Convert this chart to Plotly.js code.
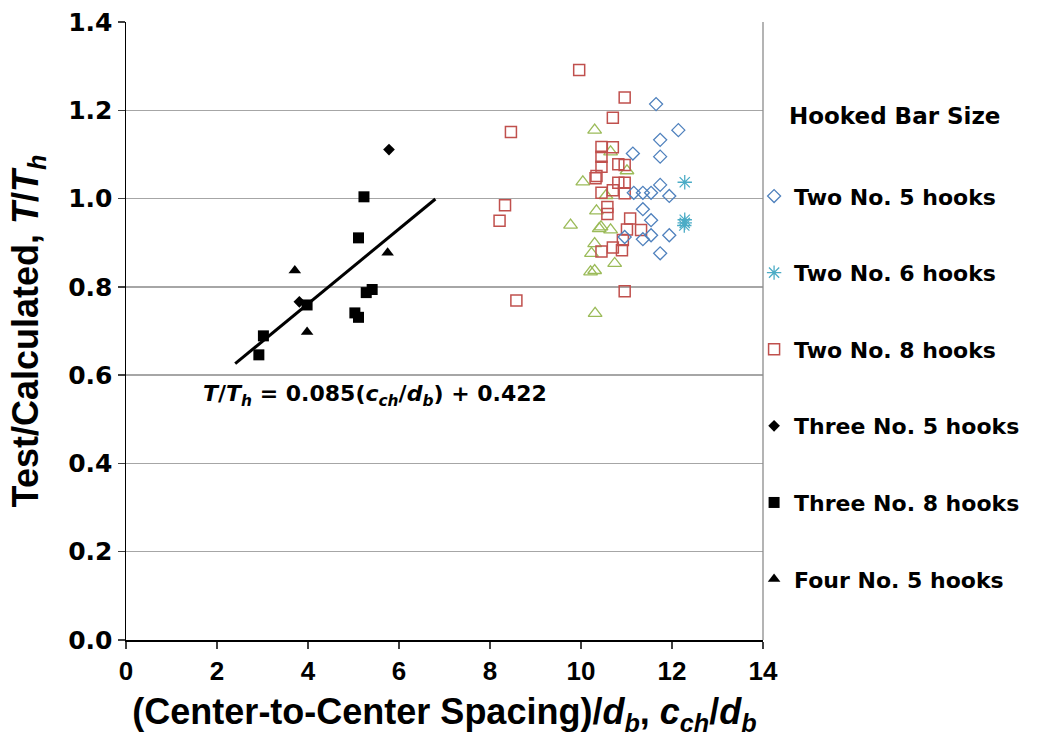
<!DOCTYPE html>
<html>
<head>
<meta charset="utf-8">
<script src="https://cdn.plot.ly/plotly-3.0.1.min.js"></script>
<style>
  html, body { margin: 0; padding: 0; background: #fff; }
  #chart { width: 1037px; height: 737px; }
</style>
</head>
<body>
<div id="chart"></div>
<script>
// ---- Data ----
var twoNo5X = [11.65, 12.14, 11.74, 11.14, 11.74, 11.74, 11.94, 11.54, 11.36, 11.16, 11.36, 11.54, 10.96, 11.36, 11.54, 11.94, 11.74];
var twoNo5Y = [1.214, 1.155, 1.133, 1.102, 1.095, 1.031, 1.006, 1.013, 1.013, 1.013, 0.976, 0.951, 0.913, 0.908, 0.917, 0.917, 0.876];

var twoNo6X = [12.28, 12.28, 12.28, 12.27];
var twoNo6Y = [1.037, 0.952, 0.945, 0.939];

var twoNo8X = [9.96, 10.96, 10.70, 8.46, 10.45, 10.70, 10.45, 10.82, 10.96, 10.45, 10.34, 10.32, 10.82, 10.96, 10.45, 10.70, 10.96, 8.33, 10.58, 10.58, 8.21, 11.08, 11.01, 11.32, 10.92, 10.70, 10.90, 10.45, 10.96, 8.58];
var twoNo8Y = [1.291, 1.229, 1.183, 1.151, 1.117, 1.116, 1.095, 1.078, 1.076, 1.072, 1.051, 1.046, 1.036, 1.036, 1.013, 1.019, 1.012, 0.985, 0.981, 0.965, 0.950, 0.955, 0.930, 0.929, 0.906, 0.889, 0.883, 0.880, 0.790, 0.769];

var otherX = [10.30, 10.65, 11.01, 10.04, 10.55, 10.34, 9.77, 10.44, 10.40, 10.65, 10.30, 10.23, 10.74, 10.21, 10.30, 10.31];
var otherY = [1.155, 1.106, 1.063, 1.038, 1.007, 0.972, 0.940, 0.936, 0.932, 0.929, 0.898, 0.876, 0.853, 0.834, 0.837, 0.740];

var threeNo5X = [5.78, 3.81];
var threeNo5Y = [1.111, 0.766];

var threeNo8X = [5.23, 5.11, 5.41, 5.28, 3.98, 5.03, 5.11, 3.02, 2.92];
var threeNo8Y = [1.004, 0.911, 0.794, 0.787, 0.759, 0.741, 0.731, 0.689, 0.646];

var fourNo5X = [5.75, 3.71, 3.98];
var fourNo5Y = [0.877, 0.837, 0.698];

var trendX = [2.4, 6.8];
var trendY = [0.626, 0.999];

var xTickVals = [0, 2, 4, 6, 8, 10, 12, 14];
var yTickVals = [0, 0.2, 0.4, 0.6, 0.8, 1.0, 1.2, 1.4];
var yTickText = ['0.0', '0.2', '0.4', '0.6', '0.8', '1.0', '1.2', '1.4'];

var seriesNames = ['Two No. 5 hooks', 'Two No. 6 hooks', 'Two No. 8 hooks', 'Three No. 5 hooks', 'Three No. 8 hooks', 'Four No. 5 hooks'];

// ---- Traces ----
var traces = [
  { x: otherX, y: otherY, type: 'scatter', mode: 'markers', showlegend: false, hoverinfo: 'x+y',
    marker: { symbol: 'triangle-up-open', size: 12, color: '#9BBB59', line: { width: 1.3, color: '#9BBB59' } } },
  { x: twoNo8X, y: twoNo8Y, type: 'scatter', mode: 'markers', name: seriesNames[2], legendgroup: 'g3', legendrank: 3,
    marker: { symbol: 'square-open', size: 11, color: '#C0504D', line: { width: 1.5, color: '#C0504D' } } },
  { x: twoNo5X, y: twoNo5Y, type: 'scatter', mode: 'markers', name: seriesNames[0], legendgroup: 'g1', legendrank: 1,
    marker: { symbol: 'diamond-open', size: 10, color: '#4F81BD', line: { width: 1.3, color: '#4F81BD' } } },
  { x: twoNo6X, y: twoNo6Y, type: 'scatter', mode: 'markers', name: seriesNames[1], legendgroup: 'g2', legendrank: 2,
    marker: { symbol: 'asterisk-open', size: 12, color: '#4BACC6', line: { width: 1.3, color: '#4BACC6' } } },
  { x: trendX, y: trendY, type: 'scatter', mode: 'lines', showlegend: false, hoverinfo: 'skip',
    line: { color: '#000000', width: 3 } },
  { x: threeNo5X, y: threeNo5Y, type: 'scatter', mode: 'markers', name: seriesNames[3], legendgroup: 'g4', legendrank: 4,
    marker: { symbol: 'diamond', size: 9, color: '#000000' } },
  { x: threeNo8X, y: threeNo8Y, type: 'scatter', mode: 'markers', name: seriesNames[4], legendgroup: 'g5', legendrank: 5,
    marker: { symbol: 'square', size: 11, color: '#000000' } },
  { x: fourNo5X, y: fourNo5Y, type: 'scatter', mode: 'markers', name: seriesNames[5], legendgroup: 'g6', legendrank: 6,
    marker: { symbol: 'triangle-up', size: 11, color: '#000000' } }
];

var layout = {
  width: 1037, height: 737,
  margin: { l: 126, r: 271, t: 22, b: 97, pad: 0 },
  paper_bgcolor: '#ffffff', plot_bgcolor: '#ffffff',
  font: { family: 'Liberation Sans, Arial, sans-serif', color: '#000000' },
  xaxis: {
    range: [0, 14], tickvals: xTickVals, ticks: 'outside', ticklen: 7, tickwidth: 1.5, tickcolor: '#404040',
    showline: true, linecolor: '#000000', linewidth: 2, showgrid: false, zeroline: false,
    tickfont: { family: 'Liberation Sans, Arial, sans-serif', size: 26, weight: 'bold', color: '#000' },
    title: { text: '<b>(Center-to-Center Spacing)/<i>d<sub>b</sub></i>, <i>c<sub>ch</sub></i>/<i>d<sub>b</sub></i></b>',
             font: { family: 'Liberation Sans, Arial, sans-serif', size: 36, color: '#000' }, standoff: 17 }
  },
  yaxis: {
    range: [0, 1.4], tickvals: yTickVals, ticktext: yTickText, ticks: 'outside', ticklen: 7, tickwidth: 1.5, tickcolor: '#404040',
    showline: true, linecolor: '#000000', linewidth: 1.5, showgrid: true, gridcolor: '#a6a6a6', gridwidth: 1.3, zeroline: false,
    tickfont: { family: 'DejaVu Sans, sans-serif', size: 25, weight: 'bold', color: '#000' },
    title: { text: '<b>Test/Calculated, <i>T</i>/<i>T<sub>h</sub></i></b>',
             font: { family: 'Liberation Sans, Arial, sans-serif', size: 36, color: '#000' }, standoff: 18 }
  },
  showlegend: true,
  legend: {
    x: 0.986, xanchor: 'left', y: 0.752, yanchor: 'top',
    traceorder: 'grouped', tracegroupgap: 45,
    bgcolor: 'rgba(0,0,0,0)', borderwidth: 0,
    font: { family: 'DejaVu Sans, sans-serif', size: 22, weight: 'bold', color: '#000' }
  },
  shapes: [
    { type: 'line', xref: 'paper', yref: 'paper', x0: 1, x1: 1, y0: 0, y1: 1, line: { color: '#8c8c8c', width: 1.3 } }
  ],
  annotations: [
    { xref: 'paper', yref: 'paper', x: 1.038, y: 0.848, xanchor: 'left', yanchor: 'middle', showarrow: false,
      text: '<b>Hooked Bar Size</b>', font: { family: 'DejaVu Sans, sans-serif', size: 23, color: '#000' } },
    { xref: 'x', yref: 'y', x: 5.47, y: 0.555, xanchor: 'center', yanchor: 'middle', showarrow: false,
      text: '<b><i>T</i>/<i>T<sub>h</sub></i> = 0.085(<i>c<sub>ch</sub></i>/<i>d<sub>b</sub></i>) + 0.422</b>',
      font: { family: 'DejaVu Sans, sans-serif', size: 22, color: '#000' } }
  ]
};

Plotly.newPlot('chart', traces, layout, { displayModeBar: false, staticPlot: true });
</script>
</body>
</html>
